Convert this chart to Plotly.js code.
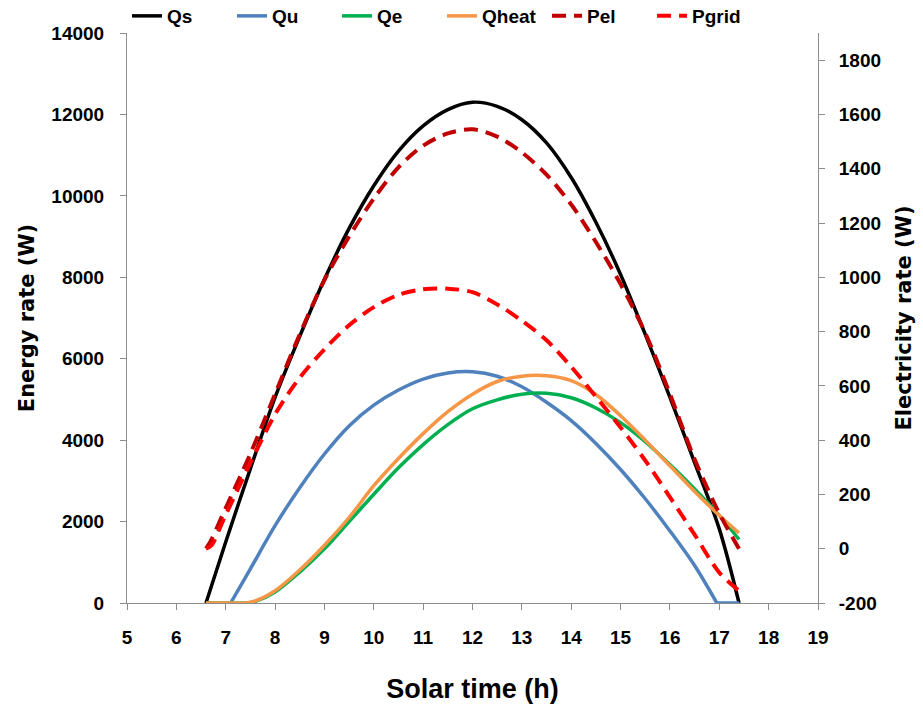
<!DOCTYPE html>
<html>
<head>
<meta charset="utf-8">
<script src="https://cdn.plot.ly/plotly-3.0.1.min.js"></script>
<style>html,body{margin:0;padding:0;background:#fff;}#chart{width:923px;height:704px;}</style>
</head>
<body>
<div id="chart"></div>
<script>
// Solar time (h) and series values
const tQs = [6.6, 7.0, 7.5, 8.0, 8.5, 9.0, 9.5, 10.0, 10.5, 11.0, 11.5, 12.0, 12.5, 13.0, 13.5, 14.0, 14.5, 15.0, 15.5, 16.0, 16.5, 17.0, 17.4];
const Qs  = [0, 1500, 3300, 5050, 6550, 7950, 9200, 10250, 11100, 11720, 12120, 12300, 12200, 11870, 11300, 10450, 9350, 8070, 6600, 5050, 3450, 1820, 0];

const tQu = [7.1, 7.5, 8.0, 8.5, 9.0, 9.5, 10.0, 10.5, 11.0, 11.5, 12.0, 12.5, 13.0, 13.5, 14.0, 14.5, 15.0, 15.5, 16.0, 16.5, 16.95];
const Qu  = [0, 840, 1900, 2830, 3660, 4350, 4860, 5230, 5500, 5650, 5680, 5570, 5310, 4930, 4480, 3920, 3280, 2560, 1770, 920, 0];
const tQuOff = [16.95, 17.4];
const QuOff  = [0, 0];

const tQh = [6.6, 7.0, 7.4, 7.6, 8.0, 8.5, 9.0, 9.5, 10.0, 10.5, 11.0, 11.5, 12.0, 12.5, 13.0, 13.5, 14.0, 14.5, 15.0, 15.5, 16.0, 16.5, 17.0, 17.4];
const Qe    = [0, 0, 0, 40, 270, 760, 1330, 2000, 2670, 3320, 3890, 4380, 4770, 4990, 5130, 5150, 5040, 4790, 4430, 3960, 3400, 2800, 2150, 1560];
const Qheat = [0, 0, 0, 50, 300, 810, 1420, 2100, 2880, 3550, 4160, 4700, 5130, 5440, 5570, 5580, 5460, 5120, 4600, 4000, 3370, 2740, 2150, 1720];

const tP = [6.6, 6.7, 7.0, 7.5, 8.0, 8.5, 9.0, 9.5, 10.0, 10.5, 11.0, 11.5, 12.0, 12.5, 13.0, 13.5, 14.0, 14.5, 15.0, 15.5, 16.0, 16.5, 17.0, 17.4];
const Pel   = [0, 30, 150, 350, 570, 790, 990, 1150, 1290, 1405, 1485, 1530, 1545, 1518, 1460, 1378, 1268, 1130, 975, 795, 570, 330, 130, 0];
const Pgrid = [0, 10, 125, 316, 495, 630, 735, 823, 890, 935, 956, 958, 945, 900, 840, 768, 670, 560, 447, 325, 190, 52, -88, -155];

const xTicks = [5, 6, 7, 8, 9, 10, 11, 12, 13, 14, 15, 16, 17, 18, 19];
const yTicks = [0, 2000, 4000, 6000, 8000, 10000, 12000, 14000];
const y2Ticks = [-200, 0, 200, 400, 600, 800, 1000, 1200, 1400, 1600, 1800];

const SANS = '"Liberation Sans", Arial, sans-serif';
const WIDE = '"DejaVu Sans", sans-serif';

function solid(x, y, name, color, extra) {
  return Object.assign({x: x, y: y, name: name, type: 'scatter', mode: 'lines',
    line: {color: color, width: 3.5, shape: 'spline', smoothing: 0.9}, yaxis: 'y'}, extra || {});
}
function dashed(x, y, name, color) {
  return {x: x, y: y, name: name, type: 'scatter', mode: 'lines',
    line: {color: color, width: 4, dash: '14px,8px', shape: 'spline', smoothing: 0.9}, yaxis: 'y2'};
}

const data = [
  solid(tQs, Qs, 'Qs', '#000000'),
  solid(tQu, Qu, 'Qu', '#4F81BD', {legendgroup: 'qu'}),
  solid(tQuOff, QuOff, 'Qu', '#4F81BD', {legendgroup: 'qu', showlegend: false}),
  solid(tQh, Qe, 'Qe', '#00B050'),
  solid(tQh, Qheat, 'Qheat', '#F79646'),
  dashed(tP, Pel, 'Pel', '#C00000'),
  dashed(tP, Pgrid, 'Pgrid', '#FF0000')
];

const axisCommon = {
  showgrid: false, zeroline: false, showline: true, linecolor: '#8c8c8c', linewidth: 1,
  ticks: 'outside', ticklen: 6, tickcolor: '#8c8c8c', automargin: false,
  tickfont: {family: SANS, size: 19, color: '#000', weight: 'bold'}
};

const layout = {
  width: 923, height: 704,
  margin: {l: 127, r: 105, t: 33, b: 101, autoexpand: false},
  paper_bgcolor: '#fff', plot_bgcolor: '#fff',
  showlegend: true,
  legend: {orientation: 'h', x: 0.0, xanchor: 'left', y: 1.0298, yanchor: 'middle',
    font: {family: SANS, size: 19, color: '#000', weight: 'bold'},
    entrywidth: 60, entrywidthmode: 'pixels', bgcolor: 'rgba(0,0,0,0)'},
  xaxis: Object.assign({}, axisCommon, {
    range: [5, 19], tickvals: xTicks, ticktext: xTicks.map(String),
    ticklabelstandoff: 11,
    title: {text: '<b>Solar time (h)</b>', font: {family: SANS, size: 27, color: '#000'}, standoff: 32}
  }),
  yaxis: Object.assign({}, axisCommon, {
    range: [0, 14000], tickvals: yTicks, ticktext: yTicks.map(String),
    ticklabelstandoff: 12,
    title: {text: '<b>Energy rate (W)</b>', font: {family: WIDE, size: 21, color: '#000'}, standoff: 11}
  }),
  yaxis2: Object.assign({}, axisCommon, {
    range: [-200, 1900], tickvals: y2Ticks, ticktext: y2Ticks.map(String),
    overlaying: 'y', side: 'right', ticklabelstandoff: 10,
    title: {text: '<b>Electricity rate (W)</b>', font: {family: WIDE, size: 21, color: '#000'}, standoff: 16}
  })
};

Plotly.newPlot('chart', data, layout, {displayModeBar: false, staticPlot: true});
</script>
</body>
</html>
